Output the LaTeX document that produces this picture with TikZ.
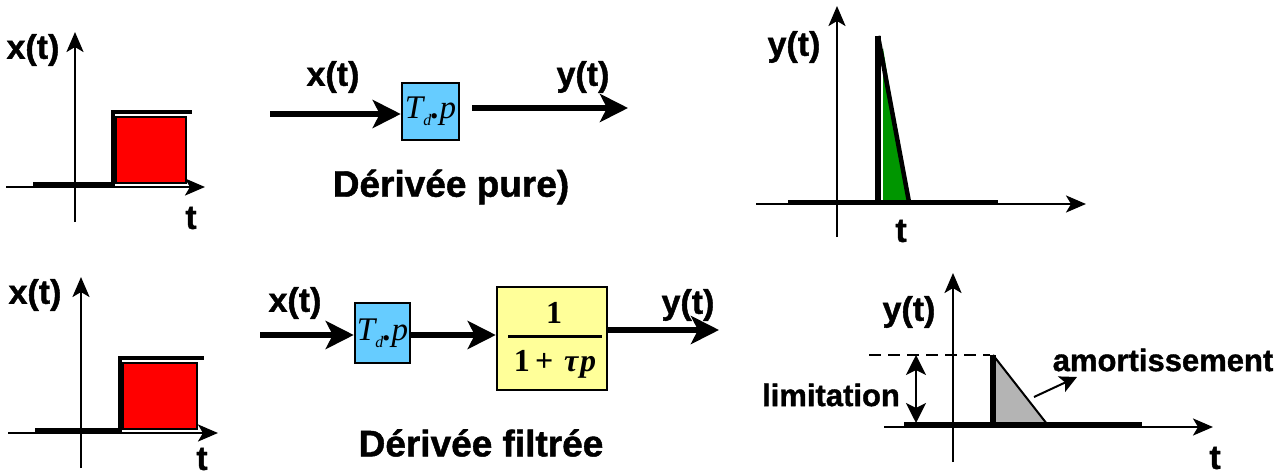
\documentclass[tikz,border=0pt]{standalone}
\usepackage{fontspec}
\setmainfont{Liberation Sans}
\newfontfamily\hv[FakeBold=1.2]{Liberation Sans}
\newfontfamily\tms{Liberation Serif}
\usetikzlibrary{arrows.meta}
\definecolor{sigred}{RGB}{255,0,0}
\definecolor{boxblue}{RGB}{102,204,255}
\definecolor{boxyellow}{RGB}{255,255,153}
\definecolor{spikegreen}{RGB}{0,150,0}
\definecolor{dampgray}{RGB}{180,180,180}
\tikzset{
  axis/.style={line width=2.5pt,-{Stealth[length=20pt,width=17pt,inset=5pt]}},
  sig/.style={line width=6pt,-{Stealth[length=28pt,width=28pt,inset=7pt]}},
  stepline/.style={line width=4pt},
  lbl/.style={font=\hv\bfseries\fontsize{34}{38}\selectfont,inner sep=0pt},
  small/.style={font=\hv\bfseries\fontsize{31}{34}\selectfont,inner sep=0pt},
  capt/.style={font=\hv\bfseries\fontsize{37}{42}\selectfont,inner sep=0pt},
  bluebox/.style={draw,line width=2.5pt,fill=boxblue,inner sep=0pt},
  yellowbox/.style={draw,line width=2.5pt,fill=boxyellow,inner sep=0pt,minimum width=110pt,minimum height=103pt},
  tdp/.style={font=\tms\itshape\fontsize{33}{33}\selectfont,inner sep=0pt},
  frac/.style={font=\tms\bfseries\fontsize{32}{34}\selectfont,inner sep=0pt},
}
\begin{document}
\begin{tikzpicture}[x=1pt,y=-1pt]
\useasboundingbox (0,0) rectangle (1283,476);

% ---------- top-left graph ----------
\coordinate (a1b) at (75,222); \coordinate (a1t) at (75,32);
\coordinate (a1l) at (6,187);  \coordinate (a1r) at (205,187);
\filldraw[fill=sigred,line width=2pt] (116,117) rectangle (186,183);
\draw[stepline] (33,184) -- (113,184) -- (113,112) -- (192,112);
\draw[axis] (a1b) -- (a1t);
\draw[axis] (a1l) -- (a1r);
\node[lbl] (x1) at (33,50) {x(t)};
\node[lbl] (t1) at (191,218) {t};

% ---------- top block diagram ----------
\node[bluebox,minimum width=57pt,minimum height=57pt] (D1) at (430.5,111.5) {};
\node[tdp] (D1t) at (D1.center) {T\raisebox{-7pt}{\fontsize{16}{16}\selectfont d}\textbf{.}p};
\coordinate (in1) at (270,114);
\draw[sig] (in1) -- (in1 -| D1.west);
\coordinate (o1a) at (472,108); \coordinate (o1b) at (628,108);
\draw[sig] (o1a) -- (o1b);
\node[lbl] (x1b) at (333,77) {x(t)};
\node[lbl] (y1b) at (583,77) {y(t)};
\node[capt] (c1) at (451,187) {Dérivée pure)};

% ---------- top-right graph ----------
\coordinate (a2b) at (837,237); \coordinate (a2t) at (837,6);
\coordinate (a2l) at (756,204); \coordinate (a2r) at (1086,204);
\fill[spikegreen] (883,48) -- (908,201) -- (883,201) -- cycle;
\draw[axis] (a2b) -- (a2t);
\draw[axis] (a2l) -- (a2r);
\draw[stepline] (788,202) -- (998,202);
\draw[line width=6pt] (878,36) -- (878,203);
\draw[line width=4.5pt] (878,36) -- (909,202);
\node[lbl] (y2) at (794,47) {y(t)};
\node[lbl] (t2) at (901,231) {t};

% ---------- bottom-left graph ----------
\coordinate (a3b) at (81,468); \coordinate (a3t) at (81,277);
\coordinate (a3l) at (8,433);  \coordinate (a3r) at (218,433);
\filldraw[fill=sigred,line width=2pt] (123,363) rectangle (197,429);
\draw[stepline] (35,430) -- (120,430) -- (120,358) -- (204,358);
\draw[axis] (a3b) -- (a3t);
\draw[axis] (a3l) -- (a3r);
\node[lbl] (x3) at (35,295) {x(t)};
\node[lbl] (t3) at (202,459) {t};

% ---------- bottom block diagram ----------
\node[bluebox,minimum width=55pt,minimum height=60pt] (D2) at (382.5,333) {};
\node[tdp] (D2t) at (D2.center) {T\raisebox{-7pt}{\fontsize{16}{16}\selectfont d}\textbf{.}p};
\node[yellowbox] (F2) at (552,338.5) {};
\node[frac] (num) at (554,313) {1};
\draw[line width=3pt] (508,336) -- (602,336);
\node[frac] (den) at (555,364) {1\,+\,\,{\itshape τ\kern2pt p}};
\coordinate (in2) at (260,335);
\draw[sig] (in2) -- (in2 -| D2.west);
\draw[sig] (D2.east |- in2) -- (F2.west |- in2);
\coordinate (out2) at (719,330);
\draw[sig] (F2.east |- out2) -- (out2);
\node[lbl] (x2b) at (295,303) {x(t)};
\node[lbl] (y2b) at (688,305) {y(t)};
\node[capt] (c2) at (481,443) {Dérivée filtrée};

% ---------- bottom-right graph ----------
\coordinate (a4b) at (953,462); \coordinate (a4t) at (953,273);
\coordinate (a4l) at (884,427); \coordinate (a4r) at (1213,427);
\fill[dampgray] (996,358) -- (1047,424) -- (996,424) -- cycle;
\draw[line width=2pt] (993,355) -- (1047,424);
\draw[axis] (a4b) -- (a4t);
\draw[axis] (a4l) -- (a4r);
\draw[stepline] (904,424) -- (1142,424);
\draw[line width=6pt] (993,355) -- (993,425);
\draw[line width=2.5pt,dash pattern=on 12pt off 7pt] (869,355) -- (990,355);
\coordinate (lt) at (916,355); \coordinate (lb) at (916,423);
\draw[line width=2pt,{Stealth[length=20pt,width=20pt,inset=5pt]}-{Stealth[length=20pt,width=20pt,inset=5pt]}] (lb) -- (lt);
\node[small] (lim) at (831,395) {limitation};
\node[small] (amo) at (1163,360) {amortissement};
\coordinate (am1) at (1034,397); \coordinate (am2) at (1077,377);
\draw[line width=2pt,-{Stealth[length=17pt,width=17pt,inset=4pt]}] (am1) -- (am2);
\node[lbl] (y4) at (909,312) {y(t)};
\node[lbl] (t4) at (1215,458) {t};
\end{tikzpicture}
\end{document}
